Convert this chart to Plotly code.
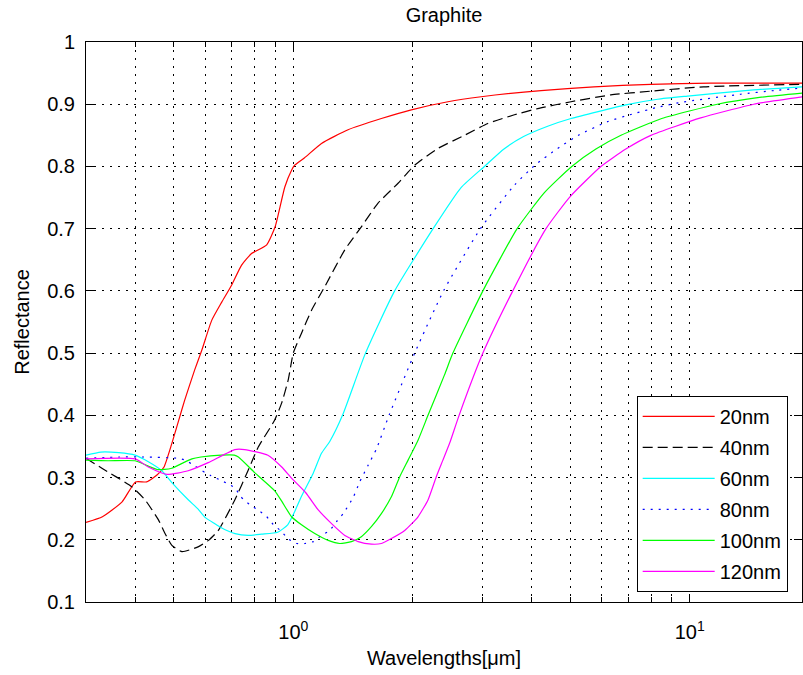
import math
import plotly.graph_objects as go

# ---------------- data ----------------
wl_20 = [0.30, 0.33, 0.37, 0.40, 0.427, 0.453, 0.472, 0.494, 0.514, 0.532, 0.564, 0.588, 0.623, 0.66,
         0.70, 0.74, 0.785, 0.857, 0.90, 0.952, 0.99, 1.008, 1.068, 1.178, 1.375, 1.668, 1.985, 2.455,
         2.978, 4.217, 5.734, 7.977, 11.3, 19.3]
r_20 = [0.228, 0.237, 0.261, 0.293, 0.293, 0.304, 0.317, 0.355, 0.392, 0.424, 0.473, 0.505, 0.553, 0.582,
        0.610, 0.641, 0.660, 0.674, 0.703, 0.767, 0.794, 0.802, 0.814, 0.837, 0.859, 0.877, 0.891, 0.904,
        0.912, 0.922, 0.928, 0.932, 0.934, 0.934]

wl_40 = [0.30, 0.329, 0.392, 0.423, 0.457, 0.474, 0.494, 0.524, 0.577, 0.611, 0.647, 0.712, 0.77, 0.816,
         0.897, 0.935, 0.971, 1.0, 1.049, 1.112, 1.201, 1.349, 1.485, 1.636, 1.838, 2.024, 2.317, 2.703,
         3.096, 3.613, 4.137, 5.018, 6.326, 7.977, 10.84, 19.3]
r_40 = [0.331, 0.315, 0.285, 0.264, 0.232, 0.211, 0.191, 0.181, 0.189, 0.199, 0.215, 0.264, 0.312, 0.349,
        0.392, 0.420, 0.457, 0.500, 0.532, 0.569, 0.607, 0.666, 0.703, 0.741, 0.773, 0.802, 0.829, 0.850,
        0.869, 0.883, 0.893, 0.904, 0.915, 0.921, 0.928, 0.932]

wl_60 = [0.30, 0.327, 0.363, 0.399, 0.432, 0.466, 0.494, 0.544, 0.574, 0.599, 0.633, 0.66, 0.713, 0.77,
         0.832, 0.913, 0.968, 1.006, 1.049, 1.123, 1.178, 1.236, 1.331, 1.521, 1.802, 2.253, 2.65, 3.036,
         3.4, 3.81, 4.4, 5.018, 6.9, 8.3, 9.87, 14.49, 19.3]
r_60 = [0.336, 0.341, 0.340, 0.336, 0.325, 0.311, 0.292, 0.264, 0.250, 0.236, 0.226, 0.219, 0.210, 0.207,
        0.209, 0.212, 0.224, 0.244, 0.270, 0.307, 0.339, 0.358, 0.400, 0.500, 0.600, 0.700, 0.766, 0.800,
        0.828, 0.848, 0.865, 0.877, 0.899, 0.908, 0.913, 0.923, 0.928]

wl_80 = [0.30, 0.365, 0.421, 0.511, 0.534, 0.563, 0.599, 0.62, 0.654, 0.684, 0.713, 0.738, 0.778, 0.815,
         0.857, 0.889, 0.935, 0.969, 1.019, 1.069, 1.123, 1.178, 1.236, 1.285, 1.336, 1.416, 1.471, 1.545,
         1.621, 1.744, 2.024, 2.393, 2.965, 3.613, 4.07, 4.645, 5.27, 6.207, 7.242, 8.29, 9.5, 13.44, 16.3, 19.3]
r_80 = [0.331, 0.333, 0.333, 0.331, 0.328, 0.319, 0.308, 0.303, 0.296, 0.290, 0.283, 0.269, 0.256, 0.248,
        0.237, 0.225, 0.213, 0.202, 0.194, 0.194, 0.197, 0.207, 0.215, 0.229, 0.242, 0.268, 0.293, 0.320,
        0.346, 0.400, 0.500, 0.600, 0.700, 0.770, 0.802, 0.829, 0.851, 0.872, 0.885, 0.895, 0.903, 0.916, 0.922, 0.926]

wl_100 = [0.30, 0.341, 0.399, 0.432, 0.453, 0.473, 0.494, 0.521, 0.555, 0.585, 0.657, 0.71, 0.727, 0.799,
          0.897, 0.935, 0.99, 1.049, 1.133, 1.225, 1.31, 1.402, 1.485, 1.574, 1.668, 1.768, 1.855, 1.948,
          2.064, 2.187, 2.407, 2.527, 3.008, 3.67, 4.3, 5.04, 5.8, 6.71, 8.5, 11.74, 15.0, 19.3]
r_100 = [0.328, 0.327, 0.327, 0.318, 0.313, 0.313, 0.315, 0.322, 0.330, 0.333, 0.336, 0.336, 0.333, 0.308,
         0.279, 0.262, 0.237, 0.224, 0.210, 0.199, 0.194, 0.197, 0.205, 0.221, 0.242, 0.269, 0.301, 0.328,
         0.360, 0.400, 0.465, 0.500, 0.600, 0.700, 0.758, 0.800, 0.828, 0.850, 0.877, 0.900, 0.911, 0.918]

wl_120 = [0.30, 0.399, 0.431, 0.48, 0.543, 0.61, 0.712, 0.754, 0.863, 0.935, 0.99, 1.074, 1.156, 1.249,
          1.349, 1.458, 1.574, 1.668, 1.768, 1.91, 2.064, 2.187, 2.294, 2.385, 2.479, 2.62, 3.008, 3.579,
          4.34, 5.0, 5.97, 6.9, 7.98, 10.66, 14.5, 19.3]
r_120 = [0.330, 0.330, 0.317, 0.305, 0.311, 0.324, 0.345, 0.345, 0.336, 0.317, 0.299, 0.276, 0.248, 0.226,
         0.207, 0.197, 0.193, 0.194, 0.202, 0.215, 0.237, 0.264, 0.301, 0.328, 0.355, 0.400, 0.500, 0.600,
         0.700, 0.752, 0.800, 0.828, 0.850, 0.878, 0.900, 0.912]

series_names = ["20nm", "40nm", "60nm", "80nm", "100nm", "120nm"]
series_x = [wl_20, wl_40, wl_60, wl_80, wl_100, wl_120]
series_y = [r_20, r_40, r_60, r_80, r_100, r_120]
series_colors = ["#FF0000", "#000000", "#00FFFF", "#0000FF", "#00FF00", "#FF00FF"]
series_dash = ["solid", "10px,5px", "solid", "2px,6px", "solid", "solid"]

x_major_ticks = [1, 10]
x_major_text = ["10<sup>0</sup>", "10<sup>1</sup>"]
x_minor_ticks = [0.3, 0.4, 0.5, 0.6, 0.7, 0.8, 0.9, 2, 3, 4, 5, 6, 7, 8, 9, 20]
y_ticks = [0.1, 0.2, 0.3, 0.4, 0.5, 0.6, 0.7, 0.8, 0.9, 1.0]
y_text = ["0.1", "0.2", "0.3", "0.4", "0.5", "0.6", "0.7", "0.8", "0.9", "1"]

FONT = "Arial, Liberation Sans, Helvetica, sans-serif"
GRID_DASH = "2px,6px"

fig = go.Figure()
for name, xs, ys, col, dash in zip(series_names, series_x, series_y, series_colors, series_dash):
    fig.add_trace(go.Scatter(
        x=xs, y=ys, mode="lines", name=name, legendgroup=name,
        line=dict(color=col, width=1.2, dash=dash, shape="spline", smoothing=0.5),
    ))

fig.update_layout(
    width=803, height=675,
    margin=dict(l=86, r=1, t=42, b=73),
    paper_bgcolor="white", plot_bgcolor="white",
    font=dict(family=FONT, size=20, color="black"),
    title=dict(text="Graphite", x=0.5, xref="paper", y=1 - 15 / 675, yref="container",
               xanchor="center", yanchor="middle", font=dict(size=20)),
    showlegend=True,
    legend=dict(
        x=0.980, y=0.018, xanchor="right", yanchor="bottom",
        bgcolor="white", bordercolor="black", borderwidth=1,
        font=dict(size=20), traceorder="grouped", tracegroupgap=2,
        itemwidth=72,
    ),
)

fig.update_xaxes(
    type="log", range=[math.log10(0.3), math.log10(19.2)],
    showline=True, linecolor="black", linewidth=1, mirror="ticks",
    ticks="inside", ticklen=8, tickcolor="black", tickwidth=1,
    tickvals=x_major_ticks, ticktext=x_major_text,
    showgrid=True, gridcolor="black", gridwidth=1, griddash=GRID_DASH,
    zeroline=False, ticklabelstandoff=12,
    minor=dict(tickvals=x_minor_ticks, ticks="inside", ticklen=5, tickcolor="black",
               showgrid=True, gridcolor="black", gridwidth=1, griddash=GRID_DASH),
    title=dict(text="Wavelengths[μm]", standoff=8, font=dict(size=20)),
    tickfont=dict(size=20),
)
fig.update_yaxes(
    range=[0.1, 1.0],
    showline=True, linecolor="black", linewidth=1, mirror="ticks",
    ticks="inside", ticklen=8, tickcolor="black", tickwidth=1,
    tickvals=y_ticks, ticktext=y_text,
    showgrid=True, gridcolor="black", gridwidth=1, griddash=GRID_DASH,
    zeroline=False, ticklabelstandoff=6,
    title=dict(text="Reflectance", standoff=12, font=dict(size=20)),
    tickfont=dict(size=20),
)

fig.write_html("out.html")
